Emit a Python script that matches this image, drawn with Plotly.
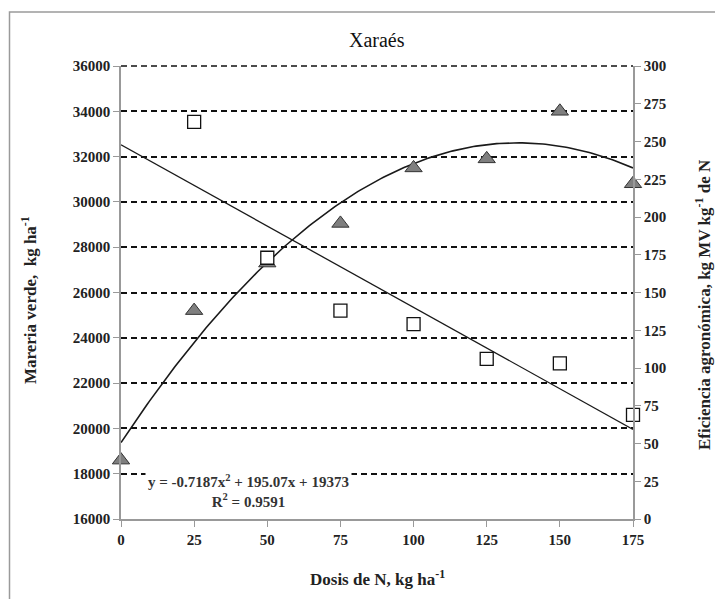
import numpy as np
import plotly.graph_objects as go

# Data
dose = [0, 25, 50, 75, 100, 125, 150, 175]
materia_verde = [18600, 25200, 27300, 29050, 31500, 31900, 34000, 30800]
dose_ef = [25, 50, 75, 100, 125, 150, 175]
eficiencia = [263, 173, 138, 129, 106, 103, 69]
quad_coef = [-0.7187, 195.07, 19373]  # printed trendline equation
r2_text = "0.9591"

x_ticks = [0, 25, 50, 75, 100, 125, 150, 175]

serif = "Liberation Serif, Times New Roman, serif"

# target plot-area geometry in screen pixels (page body has an 8px margin)
OFF = 8
L, R, T, B = 121, 633, 66, 519
PW, PH = R - L, B - T

def px(xpix):
    return (xpix - L) / PW

def py(ypix):
    return (B - ypix) / PH

xs = np.linspace(0, 175, 200)
quad_y = np.polyval(quad_coef, xs)
lin_coef = np.polyfit(dose_ef, eficiencia, 1)
lin_x = np.array([0, 175])
lin_y = np.polyval(lin_coef, lin_x)

fig = go.Figure()

fig.add_trace(go.Scatter(x=xs, y=quad_y, mode="lines",
                         line=dict(color="#1a1a1a", width=1.6),
                         hoverinfo="skip", showlegend=False, yaxis="y"))
fig.add_trace(go.Scatter(x=lin_x, y=lin_y, mode="lines",
                         line=dict(color="#1a1a1a", width=1.3),
                         hoverinfo="skip", showlegend=False, yaxis="y2"))
fig.add_trace(go.Scatter(x=dose, y=materia_verde, mode="markers",
                         marker=dict(symbol="triangle-up", size=15, color="#7f7f7f",
                                     line=dict(color="#333333", width=1)),
                         cliponaxis=False, showlegend=False, yaxis="y"))
fig.add_trace(go.Scatter(x=dose_ef, y=eficiencia, mode="markers",
                         marker=dict(symbol="square", size=13, color="white",
                                     line=dict(color="#111111", width=1.3)),
                         cliponaxis=False, showlegend=False, yaxis="y2"))

tickfont = dict(family=serif, size=15, color="#222222", weight="bold")
titlefont = dict(family=serif, size=17, color="#222222", weight="bold")

fig.update_layout(
    width=723, height=599,
    margin=dict(l=L - OFF, r=723 - (R - OFF), t=T - OFF, b=599 - (B - OFF)),
    paper_bgcolor="white", plot_bgcolor="white",
    font=dict(family=serif),
    xaxis=dict(range=[0, 175], tickvals=x_ticks, ticks="outside", ticklen=6,
               tickcolor="#999999", showline=True, linecolor="#999999", linewidth=1.5,
               showgrid=False, zeroline=False, tickfont=tickfont, automargin=False),
    yaxis=dict(range=[16000, 36000], dtick=2000, tickformat="d", ticks="outside", ticklen=6,
               tickcolor="#999999", showline=True, linecolor="#999999", linewidth=1.5,
               showgrid=True, gridcolor="#111111", gridwidth=1.5, griddash="6px,4px",
               zeroline=False, tickfont=tickfont, automargin=False),
    yaxis2=dict(range=[0, 300], dtick=25, overlaying="y", side="right",
                ticks="outside", ticklen=6, tickcolor="#999999",
                showline=True, linecolor="#999999", linewidth=1.5,
                showgrid=False, zeroline=False, tickfont=tickfont, automargin=False),
)

# top gridline at 36000 (edge of the range)
fig.add_shape(type="line", xref="paper", yref="paper", x0=0, x1=1, y0=1, y1=1,
              line=dict(color="#111111", width=1.5, dash="6px,4px"), layer="above")

# title and axis titles
fig.add_annotation(text="Xaraés", xref="paper", yref="paper", x=px(377), y=py(40),
                   showarrow=False, xanchor="center", yanchor="middle",
                   font=dict(family=serif, size=20, color="#111111"))
fig.add_annotation(text="Dosis de N, kg ha<sup>-1</sup>", xref="paper", yref="paper",
                   x=px(377), y=py(578), showarrow=False, xanchor="center", yanchor="middle",
                   font=titlefont)
fig.add_annotation(text="Mareria verde,  kg ha<sup>-1</sup>", xref="paper", yref="paper",
                   x=px(29), y=py(300), showarrow=False, textangle=-90,
                   xanchor="center", yanchor="middle", font=titlefont)
fig.add_annotation(text="Eficiencia agronómica, kg MV kg<sup>-1</sup> de N", xref="paper",
                   yref="paper", x=px(703), y=py(305), showarrow=False, textangle=-90,
                   xanchor="center", yanchor="middle", font=titlefont)

eq_text = ("y = -0.7187x<sup>2</sup> + 195.07x + 19373<br>"
           "R<sup>2</sup> = " + r2_text)
fig.add_annotation(x=px(248), y=py(491), xref="paper", yref="paper", text=eq_text,
                   showarrow=False, xanchor="center", yanchor="middle",
                   font=dict(family=serif, size=15, color="#333333", weight="bold"),
                   bgcolor="white", align="center", borderpad=2)

fig.add_shape(type="rect", xref="paper", yref="paper",
              x0=px(9.5), x1=1.3, y0=py(12), y1=-0.3,
              line=dict(color="#9a9a9a", width=1.5), layer="below")

fig.write_html("out.html")
